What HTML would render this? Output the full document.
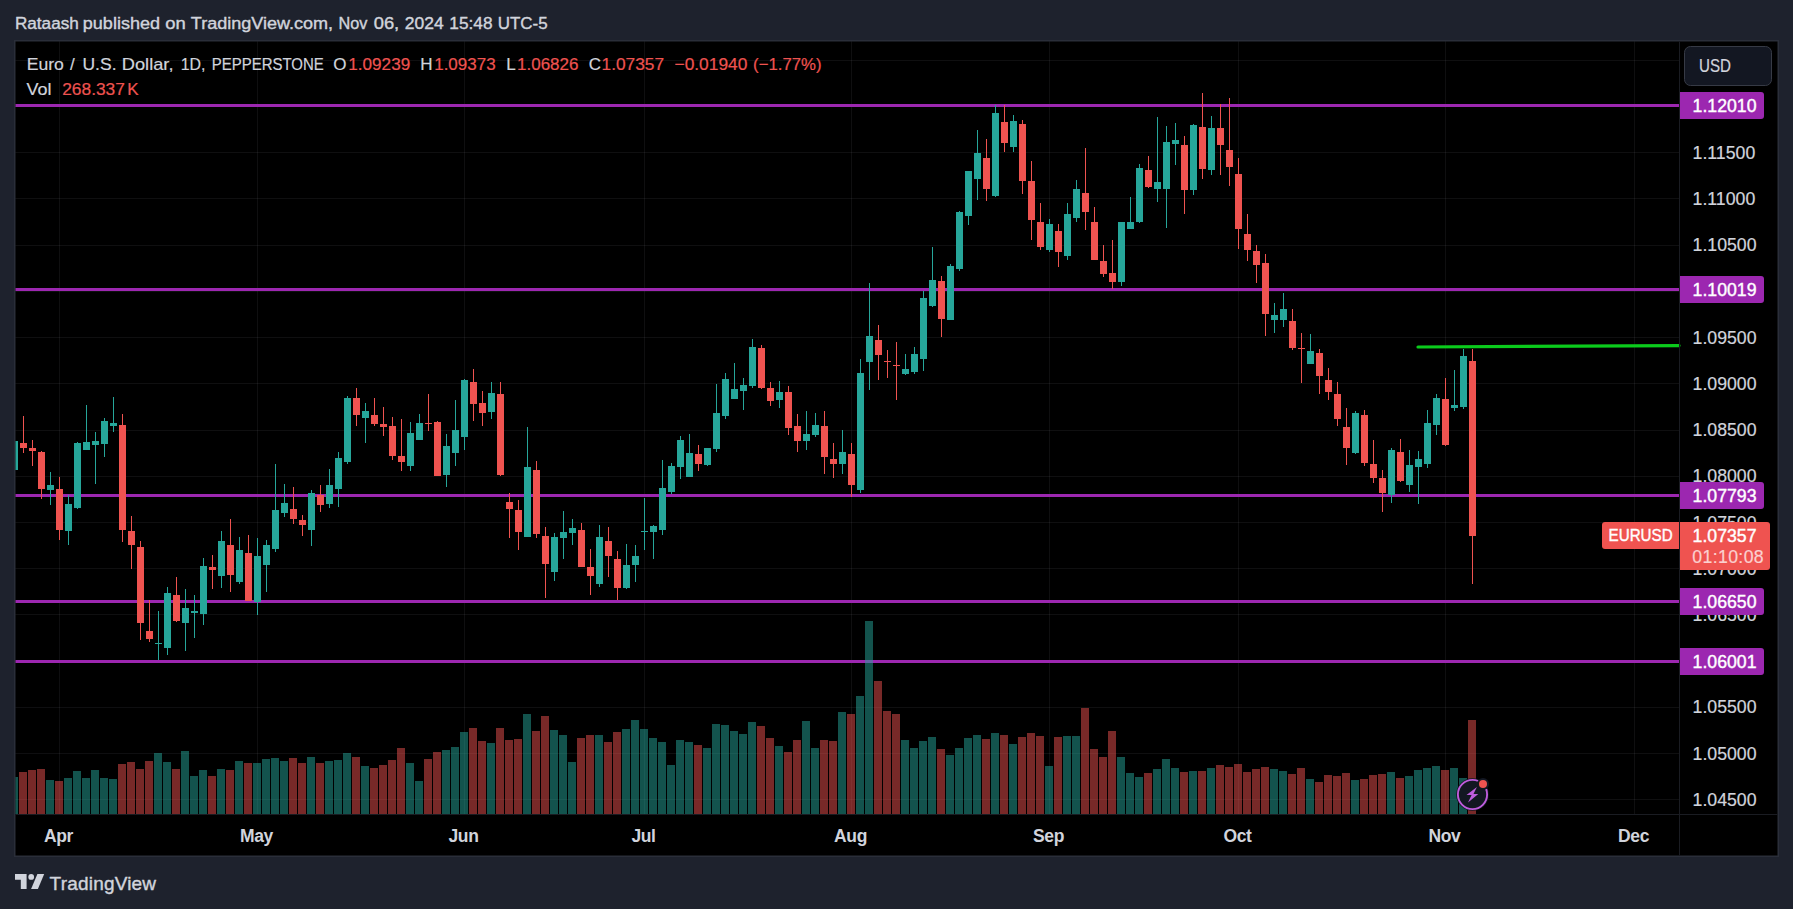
<!DOCTYPE html>
<html lang="en"><head><meta charset="utf-8"><title>EURUSD chart - TradingView</title>
<style>
html,body{margin:0;padding:0;background:#1e222d;}
body{width:1793px;height:909px;overflow:hidden;position:relative;}
svg{position:absolute;left:0;top:0;display:block;}
text{font-family:"Liberation Sans", "Trebuchet MS", Arial, sans-serif;white-space:pre;}
.g{fill:#26a69a}.r{fill:#ef5350}
.ax{fill:#d1d4dc;font-size:17.7px;stroke:#d1d4dc;stroke-width:0.2px}
.tag{fill:#fff;font-size:17.7px;stroke:#fff;stroke-width:0.4px}
.tm{fill:#d1d4dc;font-size:17.5px;font-weight:bold;text-anchor:middle;letter-spacing:-0.35px}
.lg{fill:#d1d4dc;font-size:17px;stroke:#d1d4dc;stroke-width:0.2px}
.lr{fill:#ef5350;font-size:17px;stroke:#ef5350;stroke-width:0.2px}
</style></head><body>
<svg width="1793" height="909" viewBox="0 0 1793 909">
<defs><clipPath id="pane"><rect x="15.5" y="41.5" width="1663.5" height="772.5"/></clipPath></defs>
<rect x="14" y="40" width="1765" height="817" fill="#2a2e39"/>
<rect x="15.5" y="41.5" width="1762" height="814" fill="#000"/>
<g fill="rgb(240,243,250)" fill-opacity="0.062">
<rect x="15.5" y="60" width="1663.5" height="1"/>
<rect x="15.5" y="106" width="1663.5" height="1"/>
<rect x="15.5" y="152" width="1663.5" height="1"/>
<rect x="15.5" y="198" width="1663.5" height="1"/>
<rect x="15.5" y="245" width="1663.5" height="1"/>
<rect x="15.5" y="291" width="1663.5" height="1"/>
<rect x="15.5" y="337" width="1663.5" height="1"/>
<rect x="15.5" y="383" width="1663.5" height="1"/>
<rect x="15.5" y="430" width="1663.5" height="1"/>
<rect x="15.5" y="476" width="1663.5" height="1"/>
<rect x="15.5" y="522" width="1663.5" height="1"/>
<rect x="15.5" y="568" width="1663.5" height="1"/>
<rect x="15.5" y="614" width="1663.5" height="1"/>
<rect x="15.5" y="661" width="1663.5" height="1"/>
<rect x="15.5" y="707" width="1663.5" height="1"/>
<rect x="15.5" y="753" width="1663.5" height="1"/>
<rect x="15.5" y="799" width="1663.5" height="1"/>
<rect x="59" y="41.5" width="1" height="772.5"/>
<rect x="257" y="41.5" width="1" height="772.5"/>
<rect x="464" y="41.5" width="1" height="772.5"/>
<rect x="644" y="41.5" width="1" height="772.5"/>
<rect x="851" y="41.5" width="1" height="772.5"/>
<rect x="1049" y="41.5" width="1" height="772.5"/>
<rect x="1238" y="41.5" width="1" height="772.5"/>
<rect x="1445" y="41.5" width="1" height="772.5"/>
<rect x="1634" y="41.5" width="1" height="772.5"/>
</g>
<g fill="#9c27b0">
<rect x="15.5" y="104" width="1663.5" height="3"/>
<rect x="15.5" y="288" width="1663.5" height="3"/>
<rect x="15.5" y="494" width="1663.5" height="3"/>
<rect x="15.5" y="600" width="1663.5" height="3"/>
<rect x="15.5" y="660" width="1663.5" height="3"/>
</g>
<line x1="1418" y1="347" x2="1679" y2="345.6" stroke="#0bcb1c" stroke-width="3.2" stroke-linecap="round"/>
<g clip-path="url(#pane)" opacity="0.5">
<rect class="g" x="10" y="777" width="8" height="37"/>
<rect class="r" x="19" y="772" width="8" height="42"/>
<rect class="r" x="28" y="770" width="8" height="44"/>
<rect class="r" x="37" y="769" width="8" height="45"/>
<rect class="g" x="46" y="780" width="8" height="34"/>
<rect class="r" x="55" y="781" width="8" height="33"/>
<rect class="g" x="64" y="778" width="8" height="36"/>
<rect class="g" x="73" y="771" width="8" height="43"/>
<rect class="g" x="82" y="778" width="8" height="36"/>
<rect class="g" x="91" y="770" width="8" height="44"/>
<rect class="g" x="100" y="778" width="8" height="36"/>
<rect class="g" x="109" y="779" width="8" height="35"/>
<rect class="r" x="118" y="764" width="8" height="50"/>
<rect class="r" x="127" y="762" width="8" height="52"/>
<rect class="r" x="136" y="769" width="8" height="45"/>
<rect class="r" x="145" y="761" width="8" height="53"/>
<rect class="g" x="154" y="753" width="8" height="61"/>
<rect class="g" x="163" y="762" width="8" height="52"/>
<rect class="r" x="172" y="769" width="8" height="45"/>
<rect class="g" x="181" y="751" width="8" height="63"/>
<rect class="g" x="190" y="776" width="8" height="38"/>
<rect class="g" x="199" y="770" width="8" height="44"/>
<rect class="r" x="208" y="776" width="8" height="38"/>
<rect class="g" x="217" y="769" width="8" height="45"/>
<rect class="r" x="226" y="770" width="8" height="44"/>
<rect class="g" x="235" y="761" width="8" height="53"/>
<rect class="r" x="244" y="763" width="8" height="51"/>
<rect class="g" x="253" y="763" width="8" height="51"/>
<rect class="g" x="262" y="759" width="8" height="55"/>
<rect class="g" x="271" y="758" width="8" height="56"/>
<rect class="g" x="280" y="761" width="8" height="53"/>
<rect class="r" x="289" y="758" width="8" height="56"/>
<rect class="r" x="298" y="763" width="8" height="51"/>
<rect class="g" x="307" y="757" width="8" height="57"/>
<rect class="r" x="316" y="763" width="8" height="51"/>
<rect class="g" x="325" y="761" width="8" height="53"/>
<rect class="g" x="334" y="760" width="8" height="54"/>
<rect class="g" x="343" y="753" width="8" height="61"/>
<rect class="r" x="352" y="757" width="8" height="57"/>
<rect class="g" x="361" y="766" width="8" height="48"/>
<rect class="r" x="370" y="768" width="8" height="46"/>
<rect class="r" x="379" y="765" width="8" height="49"/>
<rect class="r" x="388" y="760" width="8" height="54"/>
<rect class="r" x="397" y="748" width="8" height="66"/>
<rect class="g" x="406" y="763" width="8" height="51"/>
<rect class="g" x="415" y="781" width="8" height="33"/>
<rect class="r" x="424" y="759" width="8" height="55"/>
<rect class="r" x="433" y="752" width="8" height="62"/>
<rect class="g" x="442" y="750" width="8" height="64"/>
<rect class="g" x="451" y="747" width="8" height="67"/>
<rect class="g" x="460" y="732" width="8" height="82"/>
<rect class="r" x="469" y="728" width="8" height="86"/>
<rect class="r" x="478" y="741" width="8" height="73"/>
<rect class="g" x="487" y="743" width="8" height="71"/>
<rect class="r" x="496" y="728" width="8" height="86"/>
<rect class="r" x="505" y="740" width="8" height="74"/>
<rect class="r" x="514" y="739" width="8" height="75"/>
<rect class="g" x="523" y="714" width="8" height="100"/>
<rect class="r" x="532" y="731" width="8" height="83"/>
<rect class="r" x="541" y="716" width="8" height="98"/>
<rect class="g" x="550" y="730" width="8" height="84"/>
<rect class="g" x="559" y="735" width="8" height="79"/>
<rect class="g" x="568" y="762" width="8" height="52"/>
<rect class="r" x="577" y="738" width="8" height="76"/>
<rect class="r" x="586" y="735" width="8" height="79"/>
<rect class="g" x="595" y="735" width="8" height="79"/>
<rect class="r" x="604" y="742" width="8" height="72"/>
<rect class="r" x="613" y="732" width="8" height="82"/>
<rect class="g" x="622" y="729" width="8" height="85"/>
<rect class="g" x="631" y="720" width="8" height="94"/>
<rect class="g" x="640" y="729" width="8" height="85"/>
<rect class="g" x="649" y="738" width="8" height="76"/>
<rect class="g" x="658" y="742" width="8" height="72"/>
<rect class="g" x="667" y="765" width="8" height="49"/>
<rect class="g" x="676" y="740" width="8" height="74"/>
<rect class="g" x="685" y="742" width="8" height="72"/>
<rect class="r" x="694" y="745" width="8" height="69"/>
<rect class="g" x="703" y="748" width="8" height="66"/>
<rect class="g" x="712" y="724" width="8" height="90"/>
<rect class="g" x="721" y="725" width="8" height="89"/>
<rect class="g" x="730" y="731" width="8" height="83"/>
<rect class="g" x="739" y="734" width="8" height="80"/>
<rect class="g" x="748" y="722" width="8" height="92"/>
<rect class="r" x="757" y="726" width="8" height="88"/>
<rect class="r" x="766" y="738" width="8" height="76"/>
<rect class="g" x="775" y="746" width="8" height="68"/>
<rect class="r" x="784" y="752" width="8" height="62"/>
<rect class="r" x="793" y="740" width="8" height="74"/>
<rect class="g" x="802" y="721" width="8" height="93"/>
<rect class="g" x="811" y="748" width="8" height="66"/>
<rect class="r" x="820" y="740" width="8" height="74"/>
<rect class="r" x="829" y="741" width="8" height="73"/>
<rect class="g" x="838" y="712" width="8" height="102"/>
<rect class="r" x="847" y="714" width="8" height="100"/>
<rect class="g" x="856" y="696" width="8" height="118"/>
<rect class="g" x="865" y="621" width="8" height="193"/>
<rect class="r" x="874" y="681" width="8" height="133"/>
<rect class="r" x="883" y="711" width="8" height="103"/>
<rect class="r" x="892" y="714" width="8" height="100"/>
<rect class="g" x="901" y="740" width="8" height="74"/>
<rect class="g" x="910" y="748" width="8" height="66"/>
<rect class="g" x="919" y="741" width="8" height="73"/>
<rect class="g" x="928" y="737" width="8" height="77"/>
<rect class="r" x="937" y="749" width="8" height="65"/>
<rect class="g" x="946" y="755" width="8" height="59"/>
<rect class="g" x="955" y="748" width="8" height="66"/>
<rect class="g" x="964" y="738" width="8" height="76"/>
<rect class="g" x="973" y="735" width="8" height="79"/>
<rect class="r" x="982" y="739" width="8" height="75"/>
<rect class="g" x="991" y="733" width="8" height="81"/>
<rect class="r" x="1000" y="735" width="8" height="79"/>
<rect class="g" x="1009" y="744" width="8" height="70"/>
<rect class="r" x="1018" y="737" width="8" height="77"/>
<rect class="r" x="1027" y="733" width="8" height="81"/>
<rect class="r" x="1036" y="736" width="8" height="78"/>
<rect class="g" x="1045" y="766" width="8" height="48"/>
<rect class="r" x="1054" y="737" width="8" height="77"/>
<rect class="g" x="1063" y="736" width="8" height="78"/>
<rect class="g" x="1072" y="736" width="8" height="78"/>
<rect class="r" x="1081" y="708" width="8" height="106"/>
<rect class="r" x="1090" y="749" width="8" height="65"/>
<rect class="r" x="1099" y="757" width="8" height="57"/>
<rect class="r" x="1108" y="731" width="8" height="83"/>
<rect class="g" x="1117" y="757" width="8" height="57"/>
<rect class="g" x="1126" y="773" width="8" height="41"/>
<rect class="g" x="1135" y="777" width="8" height="37"/>
<rect class="r" x="1144" y="773" width="8" height="41"/>
<rect class="g" x="1153" y="769" width="8" height="45"/>
<rect class="g" x="1162" y="759" width="8" height="55"/>
<rect class="g" x="1171" y="768" width="8" height="46"/>
<rect class="r" x="1180" y="772" width="8" height="42"/>
<rect class="g" x="1189" y="771" width="8" height="43"/>
<rect class="r" x="1198" y="771" width="8" height="43"/>
<rect class="g" x="1207" y="768" width="8" height="46"/>
<rect class="r" x="1216" y="765" width="8" height="49"/>
<rect class="r" x="1225" y="767" width="8" height="47"/>
<rect class="r" x="1234" y="764" width="8" height="50"/>
<rect class="r" x="1243" y="772" width="8" height="42"/>
<rect class="r" x="1252" y="769" width="8" height="45"/>
<rect class="r" x="1261" y="767" width="8" height="47"/>
<rect class="g" x="1270" y="769" width="8" height="45"/>
<rect class="g" x="1279" y="771" width="8" height="43"/>
<rect class="r" x="1288" y="774" width="8" height="40"/>
<rect class="r" x="1297" y="768" width="8" height="46"/>
<rect class="g" x="1306" y="779" width="8" height="35"/>
<rect class="r" x="1315" y="782" width="8" height="32"/>
<rect class="r" x="1324" y="775" width="8" height="39"/>
<rect class="r" x="1333" y="776" width="8" height="38"/>
<rect class="r" x="1342" y="773" width="8" height="41"/>
<rect class="g" x="1351" y="780" width="8" height="34"/>
<rect class="r" x="1360" y="779" width="8" height="35"/>
<rect class="r" x="1369" y="775" width="8" height="39"/>
<rect class="r" x="1378" y="774" width="8" height="40"/>
<rect class="g" x="1387" y="772" width="8" height="42"/>
<rect class="r" x="1396" y="778" width="8" height="36"/>
<rect class="g" x="1405" y="776" width="8" height="38"/>
<rect class="g" x="1414" y="770" width="8" height="44"/>
<rect class="g" x="1423" y="768" width="8" height="46"/>
<rect class="g" x="1432" y="766" width="8" height="48"/>
<rect class="r" x="1441" y="770" width="8" height="44"/>
<rect class="g" x="1450" y="768" width="8" height="46"/>
<rect class="g" x="1459" y="778" width="8" height="36"/>
<rect class="r" x="1468" y="720" width="8" height="94"/>
</g>
<g clip-path="url(#pane)">
<rect class="g" x="14" y="440" width="1" height="32"/>
<rect class="g" x="11" y="441" width="7" height="29"/>
<rect class="r" x="23" y="416" width="1" height="37"/>
<rect class="r" x="20" y="443" width="7" height="5"/>
<rect class="r" x="32" y="440" width="1" height="26"/>
<rect class="r" x="29" y="448" width="7" height="3"/>
<rect class="r" x="41" y="451" width="1" height="48"/>
<rect class="r" x="38" y="452" width="7" height="37"/>
<rect class="g" x="50" y="472" width="1" height="33"/>
<rect class="g" x="47" y="485" width="7" height="5"/>
<rect class="r" x="59" y="477" width="1" height="63"/>
<rect class="r" x="56" y="489" width="7" height="41"/>
<rect class="g" x="68" y="495" width="1" height="50"/>
<rect class="g" x="65" y="504" width="7" height="27"/>
<rect class="g" x="77" y="442" width="1" height="67"/>
<rect class="g" x="74" y="443" width="7" height="65"/>
<rect class="g" x="86" y="405" width="1" height="45"/>
<rect class="g" x="83" y="442" width="7" height="8"/>
<rect class="g" x="95" y="432" width="1" height="52"/>
<rect class="g" x="92" y="441" width="7" height="4"/>
<rect class="g" x="104" y="418" width="1" height="39"/>
<rect class="g" x="101" y="421" width="7" height="23"/>
<rect class="g" x="113" y="397" width="1" height="35"/>
<rect class="g" x="110" y="423" width="7" height="3"/>
<rect class="r" x="122" y="414" width="1" height="128"/>
<rect class="r" x="119" y="425" width="7" height="105"/>
<rect class="r" x="131" y="516" width="1" height="53"/>
<rect class="r" x="128" y="531" width="7" height="14"/>
<rect class="r" x="140" y="541" width="1" height="99"/>
<rect class="r" x="137" y="547" width="7" height="76"/>
<rect class="r" x="149" y="600" width="1" height="42"/>
<rect class="r" x="146" y="631" width="7" height="8"/>
<rect class="g" x="158" y="611" width="1" height="49"/>
<rect class="g" x="155" y="643" width="7" height="1"/>
<rect class="g" x="167" y="587" width="1" height="68"/>
<rect class="g" x="164" y="593" width="7" height="55"/>
<rect class="r" x="176" y="577" width="1" height="45"/>
<rect class="r" x="173" y="595" width="7" height="26"/>
<rect class="g" x="185" y="589" width="1" height="62"/>
<rect class="g" x="182" y="608" width="7" height="15"/>
<rect class="g" x="194" y="595" width="1" height="43"/>
<rect class="g" x="191" y="611" width="7" height="2"/>
<rect class="g" x="203" y="558" width="1" height="67"/>
<rect class="g" x="200" y="566" width="7" height="48"/>
<rect class="r" x="212" y="555" width="1" height="34"/>
<rect class="r" x="209" y="567" width="7" height="3"/>
<rect class="g" x="221" y="531" width="1" height="57"/>
<rect class="g" x="218" y="541" width="7" height="35"/>
<rect class="r" x="230" y="519" width="1" height="73"/>
<rect class="r" x="227" y="545" width="7" height="30"/>
<rect class="g" x="239" y="537" width="1" height="47"/>
<rect class="g" x="236" y="550" width="7" height="32"/>
<rect class="r" x="248" y="535" width="1" height="66"/>
<rect class="r" x="245" y="553" width="7" height="48"/>
<rect class="g" x="257" y="538" width="1" height="77"/>
<rect class="g" x="254" y="556" width="7" height="46"/>
<rect class="g" x="266" y="540" width="1" height="52"/>
<rect class="g" x="263" y="545" width="7" height="20"/>
<rect class="g" x="275" y="464" width="1" height="88"/>
<rect class="g" x="272" y="510" width="7" height="39"/>
<rect class="g" x="284" y="484" width="1" height="33"/>
<rect class="g" x="281" y="503" width="7" height="10"/>
<rect class="r" x="293" y="487" width="1" height="37"/>
<rect class="r" x="290" y="509" width="7" height="10"/>
<rect class="r" x="302" y="515" width="1" height="21"/>
<rect class="r" x="299" y="520" width="7" height="5"/>
<rect class="g" x="311" y="490" width="1" height="56"/>
<rect class="g" x="308" y="493" width="7" height="37"/>
<rect class="r" x="320" y="485" width="1" height="27"/>
<rect class="r" x="317" y="495" width="7" height="10"/>
<rect class="g" x="329" y="469" width="1" height="39"/>
<rect class="g" x="326" y="485" width="7" height="19"/>
<rect class="g" x="338" y="452" width="1" height="55"/>
<rect class="g" x="335" y="458" width="7" height="31"/>
<rect class="g" x="347" y="396" width="1" height="68"/>
<rect class="g" x="344" y="398" width="7" height="64"/>
<rect class="r" x="356" y="388" width="1" height="38"/>
<rect class="r" x="353" y="398" width="7" height="17"/>
<rect class="g" x="365" y="403" width="1" height="40"/>
<rect class="g" x="362" y="411" width="7" height="7"/>
<rect class="r" x="374" y="398" width="1" height="28"/>
<rect class="r" x="371" y="415" width="7" height="9"/>
<rect class="r" x="383" y="407" width="1" height="29"/>
<rect class="r" x="380" y="424" width="7" height="3"/>
<rect class="r" x="392" y="417" width="1" height="43"/>
<rect class="r" x="389" y="426" width="7" height="30"/>
<rect class="r" x="401" y="419" width="1" height="52"/>
<rect class="r" x="398" y="456" width="7" height="6"/>
<rect class="g" x="410" y="422" width="1" height="49"/>
<rect class="g" x="407" y="433" width="7" height="33"/>
<rect class="g" x="419" y="414" width="1" height="26"/>
<rect class="g" x="416" y="423" width="7" height="17"/>
<rect class="r" x="428" y="394" width="1" height="37"/>
<rect class="r" x="425" y="423" width="7" height="1"/>
<rect class="r" x="437" y="421" width="1" height="55"/>
<rect class="r" x="434" y="422" width="7" height="54"/>
<rect class="g" x="446" y="434" width="1" height="53"/>
<rect class="g" x="443" y="446" width="7" height="29"/>
<rect class="g" x="455" y="400" width="1" height="66"/>
<rect class="g" x="452" y="430" width="7" height="23"/>
<rect class="g" x="464" y="379" width="1" height="71"/>
<rect class="g" x="461" y="380" width="7" height="57"/>
<rect class="r" x="473" y="369" width="1" height="52"/>
<rect class="r" x="470" y="382" width="7" height="22"/>
<rect class="r" x="482" y="391" width="1" height="35"/>
<rect class="r" x="479" y="403" width="7" height="10"/>
<rect class="g" x="491" y="382" width="1" height="37"/>
<rect class="g" x="488" y="393" width="7" height="19"/>
<rect class="r" x="500" y="382" width="1" height="94"/>
<rect class="r" x="497" y="394" width="7" height="81"/>
<rect class="r" x="509" y="493" width="1" height="45"/>
<rect class="r" x="506" y="502" width="7" height="7"/>
<rect class="r" x="518" y="500" width="1" height="50"/>
<rect class="r" x="515" y="510" width="7" height="22"/>
<rect class="g" x="527" y="427" width="1" height="110"/>
<rect class="g" x="524" y="467" width="7" height="70"/>
<rect class="r" x="536" y="461" width="1" height="77"/>
<rect class="r" x="533" y="470" width="7" height="64"/>
<rect class="r" x="545" y="527" width="1" height="71"/>
<rect class="r" x="542" y="536" width="7" height="28"/>
<rect class="g" x="554" y="533" width="1" height="48"/>
<rect class="g" x="551" y="537" width="7" height="35"/>
<rect class="g" x="563" y="511" width="1" height="48"/>
<rect class="g" x="560" y="532" width="7" height="6"/>
<rect class="g" x="572" y="519" width="1" height="26"/>
<rect class="g" x="569" y="528" width="7" height="5"/>
<rect class="r" x="581" y="523" width="1" height="44"/>
<rect class="r" x="578" y="530" width="7" height="37"/>
<rect class="r" x="590" y="549" width="1" height="46"/>
<rect class="r" x="587" y="567" width="7" height="9"/>
<rect class="g" x="599" y="525" width="1" height="62"/>
<rect class="g" x="596" y="537" width="7" height="47"/>
<rect class="r" x="608" y="527" width="1" height="50"/>
<rect class="r" x="605" y="541" width="7" height="15"/>
<rect class="r" x="617" y="551" width="1" height="49"/>
<rect class="r" x="614" y="559" width="7" height="29"/>
<rect class="g" x="626" y="544" width="1" height="45"/>
<rect class="g" x="623" y="565" width="7" height="23"/>
<rect class="g" x="635" y="545" width="1" height="37"/>
<rect class="g" x="632" y="556" width="7" height="9"/>
<rect class="g" x="644" y="498" width="1" height="52"/>
<rect class="g" x="641" y="531" width="7" height="1"/>
<rect class="g" x="653" y="525" width="1" height="34"/>
<rect class="g" x="650" y="526" width="7" height="6"/>
<rect class="g" x="662" y="460" width="1" height="75"/>
<rect class="g" x="659" y="488" width="7" height="42"/>
<rect class="g" x="671" y="463" width="1" height="31"/>
<rect class="g" x="668" y="466" width="7" height="26"/>
<rect class="g" x="680" y="436" width="1" height="43"/>
<rect class="g" x="677" y="440" width="7" height="27"/>
<rect class="g" x="689" y="434" width="1" height="43"/>
<rect class="g" x="686" y="453" width="7" height="24"/>
<rect class="r" x="698" y="445" width="1" height="26"/>
<rect class="r" x="695" y="454" width="7" height="10"/>
<rect class="g" x="707" y="448" width="1" height="18"/>
<rect class="g" x="704" y="448" width="7" height="17"/>
<rect class="g" x="716" y="384" width="1" height="68"/>
<rect class="g" x="713" y="413" width="7" height="36"/>
<rect class="g" x="725" y="373" width="1" height="46"/>
<rect class="g" x="722" y="379" width="7" height="37"/>
<rect class="g" x="734" y="363" width="1" height="36"/>
<rect class="g" x="731" y="389" width="7" height="10"/>
<rect class="g" x="743" y="378" width="1" height="32"/>
<rect class="g" x="740" y="385" width="7" height="6"/>
<rect class="g" x="752" y="339" width="1" height="49"/>
<rect class="g" x="749" y="347" width="7" height="39"/>
<rect class="r" x="761" y="345" width="1" height="44"/>
<rect class="r" x="758" y="348" width="7" height="40"/>
<rect class="r" x="770" y="382" width="1" height="24"/>
<rect class="r" x="767" y="388" width="7" height="13"/>
<rect class="g" x="779" y="381" width="1" height="27"/>
<rect class="g" x="776" y="392" width="7" height="8"/>
<rect class="r" x="788" y="386" width="1" height="49"/>
<rect class="r" x="785" y="392" width="7" height="36"/>
<rect class="r" x="797" y="414" width="1" height="38"/>
<rect class="r" x="794" y="426" width="7" height="15"/>
<rect class="g" x="806" y="411" width="1" height="39"/>
<rect class="g" x="803" y="434" width="7" height="7"/>
<rect class="g" x="815" y="413" width="1" height="24"/>
<rect class="g" x="812" y="425" width="7" height="10"/>
<rect class="r" x="824" y="411" width="1" height="63"/>
<rect class="r" x="821" y="426" width="7" height="31"/>
<rect class="r" x="833" y="443" width="1" height="35"/>
<rect class="r" x="830" y="459" width="7" height="5"/>
<rect class="g" x="842" y="430" width="1" height="44"/>
<rect class="g" x="839" y="452" width="7" height="12"/>
<rect class="r" x="851" y="443" width="1" height="54"/>
<rect class="r" x="848" y="454" width="7" height="31"/>
<rect class="g" x="860" y="359" width="1" height="134"/>
<rect class="g" x="857" y="373" width="7" height="117"/>
<rect class="g" x="869" y="283" width="1" height="107"/>
<rect class="g" x="866" y="336" width="7" height="26"/>
<rect class="r" x="878" y="325" width="1" height="55"/>
<rect class="r" x="875" y="340" width="7" height="15"/>
<rect class="r" x="887" y="350" width="1" height="28"/>
<rect class="r" x="884" y="361" width="7" height="1"/>
<rect class="r" x="896" y="342" width="1" height="58"/>
<rect class="r" x="893" y="365" width="7" height="1"/>
<rect class="g" x="905" y="354" width="1" height="21"/>
<rect class="g" x="902" y="369" width="7" height="5"/>
<rect class="g" x="914" y="347" width="1" height="27"/>
<rect class="g" x="911" y="354" width="7" height="18"/>
<rect class="g" x="923" y="291" width="1" height="80"/>
<rect class="g" x="920" y="298" width="7" height="61"/>
<rect class="g" x="932" y="247" width="1" height="60"/>
<rect class="g" x="929" y="280" width="7" height="26"/>
<rect class="r" x="941" y="276" width="1" height="61"/>
<rect class="r" x="938" y="281" width="7" height="38"/>
<rect class="g" x="950" y="264" width="1" height="56"/>
<rect class="g" x="947" y="266" width="7" height="54"/>
<rect class="g" x="959" y="211" width="1" height="60"/>
<rect class="g" x="956" y="212" width="7" height="57"/>
<rect class="g" x="968" y="171" width="1" height="54"/>
<rect class="g" x="965" y="171" width="7" height="45"/>
<rect class="g" x="977" y="130" width="1" height="70"/>
<rect class="g" x="974" y="153" width="7" height="26"/>
<rect class="r" x="986" y="139" width="1" height="62"/>
<rect class="r" x="983" y="158" width="7" height="31"/>
<rect class="g" x="995" y="105" width="1" height="92"/>
<rect class="g" x="992" y="113" width="7" height="83"/>
<rect class="r" x="1004" y="105" width="1" height="47"/>
<rect class="r" x="1001" y="122" width="7" height="21"/>
<rect class="g" x="1013" y="115" width="1" height="37"/>
<rect class="g" x="1010" y="121" width="7" height="26"/>
<rect class="r" x="1022" y="120" width="1" height="74"/>
<rect class="r" x="1019" y="124" width="7" height="57"/>
<rect class="r" x="1031" y="161" width="1" height="79"/>
<rect class="r" x="1028" y="181" width="7" height="39"/>
<rect class="r" x="1040" y="203" width="1" height="47"/>
<rect class="r" x="1037" y="222" width="7" height="25"/>
<rect class="g" x="1049" y="219" width="1" height="33"/>
<rect class="g" x="1046" y="224" width="7" height="26"/>
<rect class="r" x="1058" y="224" width="1" height="43"/>
<rect class="r" x="1055" y="231" width="7" height="21"/>
<rect class="g" x="1067" y="203" width="1" height="57"/>
<rect class="g" x="1064" y="214" width="7" height="42"/>
<rect class="g" x="1076" y="180" width="1" height="42"/>
<rect class="g" x="1073" y="189" width="7" height="29"/>
<rect class="r" x="1085" y="148" width="1" height="82"/>
<rect class="r" x="1082" y="193" width="7" height="19"/>
<rect class="r" x="1094" y="207" width="1" height="53"/>
<rect class="r" x="1091" y="222" width="7" height="38"/>
<rect class="r" x="1103" y="245" width="1" height="32"/>
<rect class="r" x="1100" y="261" width="7" height="13"/>
<rect class="r" x="1112" y="240" width="1" height="49"/>
<rect class="r" x="1109" y="273" width="7" height="9"/>
<rect class="g" x="1121" y="222" width="1" height="64"/>
<rect class="g" x="1118" y="222" width="7" height="60"/>
<rect class="g" x="1130" y="197" width="1" height="32"/>
<rect class="g" x="1127" y="222" width="7" height="7"/>
<rect class="g" x="1139" y="164" width="1" height="59"/>
<rect class="g" x="1136" y="168" width="7" height="54"/>
<rect class="r" x="1148" y="156" width="1" height="32"/>
<rect class="r" x="1145" y="170" width="7" height="17"/>
<rect class="g" x="1157" y="117" width="1" height="85"/>
<rect class="g" x="1154" y="182" width="7" height="7"/>
<rect class="g" x="1166" y="126" width="1" height="102"/>
<rect class="g" x="1163" y="142" width="7" height="47"/>
<rect class="g" x="1175" y="123" width="1" height="42"/>
<rect class="g" x="1172" y="140" width="7" height="4"/>
<rect class="r" x="1184" y="136" width="1" height="78"/>
<rect class="r" x="1181" y="145" width="7" height="45"/>
<rect class="g" x="1193" y="124" width="1" height="71"/>
<rect class="g" x="1190" y="125" width="7" height="65"/>
<rect class="r" x="1202" y="93" width="1" height="86"/>
<rect class="r" x="1199" y="127" width="7" height="42"/>
<rect class="g" x="1211" y="116" width="1" height="59"/>
<rect class="g" x="1208" y="128" width="7" height="42"/>
<rect class="r" x="1220" y="104" width="1" height="71"/>
<rect class="r" x="1217" y="128" width="7" height="17"/>
<rect class="r" x="1229" y="98" width="1" height="88"/>
<rect class="r" x="1226" y="150" width="7" height="17"/>
<rect class="r" x="1238" y="158" width="1" height="91"/>
<rect class="r" x="1235" y="174" width="7" height="55"/>
<rect class="r" x="1247" y="214" width="1" height="47"/>
<rect class="r" x="1244" y="234" width="7" height="16"/>
<rect class="r" x="1256" y="245" width="1" height="38"/>
<rect class="r" x="1253" y="251" width="7" height="14"/>
<rect class="r" x="1265" y="254" width="1" height="82"/>
<rect class="r" x="1262" y="263" width="7" height="51"/>
<rect class="g" x="1274" y="303" width="1" height="30"/>
<rect class="g" x="1271" y="315" width="7" height="5"/>
<rect class="g" x="1283" y="293" width="1" height="34"/>
<rect class="g" x="1280" y="309" width="7" height="11"/>
<rect class="r" x="1292" y="309" width="1" height="41"/>
<rect class="r" x="1289" y="321" width="7" height="27"/>
<rect class="r" x="1301" y="333" width="1" height="50"/>
<rect class="r" x="1298" y="348" width="7" height="1"/>
<rect class="g" x="1310" y="334" width="1" height="30"/>
<rect class="g" x="1307" y="351" width="7" height="13"/>
<rect class="r" x="1319" y="349" width="1" height="45"/>
<rect class="r" x="1316" y="353" width="7" height="23"/>
<rect class="r" x="1328" y="368" width="1" height="32"/>
<rect class="r" x="1325" y="380" width="7" height="12"/>
<rect class="r" x="1337" y="382" width="1" height="44"/>
<rect class="r" x="1334" y="394" width="7" height="25"/>
<rect class="r" x="1346" y="408" width="1" height="57"/>
<rect class="r" x="1343" y="427" width="7" height="21"/>
<rect class="g" x="1355" y="411" width="1" height="43"/>
<rect class="g" x="1352" y="413" width="7" height="40"/>
<rect class="r" x="1364" y="410" width="1" height="56"/>
<rect class="r" x="1361" y="415" width="7" height="48"/>
<rect class="r" x="1373" y="440" width="1" height="43"/>
<rect class="r" x="1370" y="464" width="7" height="14"/>
<rect class="r" x="1382" y="470" width="1" height="42"/>
<rect class="r" x="1379" y="478" width="7" height="15"/>
<rect class="g" x="1391" y="448" width="1" height="55"/>
<rect class="g" x="1388" y="450" width="7" height="45"/>
<rect class="r" x="1400" y="439" width="1" height="43"/>
<rect class="r" x="1397" y="452" width="7" height="29"/>
<rect class="g" x="1409" y="450" width="1" height="42"/>
<rect class="g" x="1406" y="465" width="7" height="20"/>
<rect class="g" x="1418" y="451" width="1" height="53"/>
<rect class="g" x="1415" y="459" width="7" height="8"/>
<rect class="g" x="1427" y="410" width="1" height="58"/>
<rect class="g" x="1424" y="423" width="7" height="41"/>
<rect class="g" x="1436" y="394" width="1" height="41"/>
<rect class="g" x="1433" y="398" width="7" height="27"/>
<rect class="r" x="1445" y="378" width="1" height="68"/>
<rect class="r" x="1442" y="399" width="7" height="46"/>
<rect class="g" x="1454" y="370" width="1" height="41"/>
<rect class="g" x="1451" y="405" width="7" height="3"/>
<rect class="g" x="1463" y="349" width="1" height="60"/>
<rect class="g" x="1460" y="356" width="7" height="51"/>
<rect class="r" x="1472" y="349" width="1" height="235"/>
<rect class="r" x="1469" y="361" width="7" height="175"/>
</g>
<rect x="15.5" y="814" width="1762" height="1" fill="#1a1c22"/>
<rect x="1679" y="41.5" width="1" height="814" fill="#1a1c22"/>
<text class="ax" x="1692.6" y="158.95">1.11500</text>
<text class="ax" x="1692.6" y="205.16">1.11000</text>
<text class="ax" x="1692.6" y="251.37">1.10500</text>
<text class="ax" x="1692.6" y="297.58">1.10000</text>
<text class="ax" x="1692.6" y="343.79">1.09500</text>
<text class="ax" x="1692.6" y="390">1.09000</text>
<text class="ax" x="1692.6" y="436.21">1.08500</text>
<text class="ax" x="1692.6" y="482.42">1.08000</text>
<text class="ax" x="1692.6" y="528.63">1.07500</text>
<text class="ax" x="1692.6" y="574.84">1.07000</text>
<text class="ax" x="1692.6" y="621.05">1.06500</text>
<text class="ax" x="1692.6" y="667.26">1.06000</text>
<text class="ax" x="1692.6" y="713.47">1.05500</text>
<text class="ax" x="1692.6" y="759.68">1.05000</text>
<text class="ax" x="1692.6" y="805.89">1.04500</text>
<path d="M1680 92 h81 a3 3 0 0 1 3 3 v21 a3 3 0 0 1 -3 3 h-81 z" fill="#9c27b0"/>
<text class="tag" x="1692.6" y="111.9">1.12010</text>
<path d="M1680 276 h81 a3 3 0 0 1 3 3 v21 a3 3 0 0 1 -3 3 h-81 z" fill="#9c27b0"/>
<text class="tag" x="1692.6" y="295.9">1.10019</text>
<path d="M1680 482 h81 a3 3 0 0 1 3 3 v21 a3 3 0 0 1 -3 3 h-81 z" fill="#9c27b0"/>
<text class="tag" x="1692.6" y="501.9">1.07793</text>
<path d="M1680 588 h81 a3 3 0 0 1 3 3 v21 a3 3 0 0 1 -3 3 h-81 z" fill="#9c27b0"/>
<text class="tag" x="1692.6" y="607.9">1.06650</text>
<path d="M1680 648 h81 a3 3 0 0 1 3 3 v21 a3 3 0 0 1 -3 3 h-81 z" fill="#9c27b0"/>
<text class="tag" x="1692.6" y="667.9">1.06001</text>
<path d="M1605 522 h74 v27 h-74 a3 3 0 0 1 -3 -3 v-21 a3 3 0 0 1 3 -3 z" fill="#ef5350"/>
<text x="1608.6" y="541.4" fill="#fff" stroke="#fff" stroke-width="0.4" font-size="16.6" textLength="64" lengthAdjust="spacingAndGlyphs">EURUSD</text>
<path d="M1680 522 h87 a3 3 0 0 1 3 3 v42 a3 3 0 0 1 -3 3 h-87 z" fill="#ef5350"/>
<text class="tag" x="1692.6" y="542">1.07357</text>
<text x="1692.2" y="562.6" fill="#fbd0cf" stroke="#fbd0cf" stroke-width="0.2" font-size="17.7" textLength="71.5" lengthAdjust="spacing">01:10:08</text>
<rect x="1684.5" y="46.5" width="87" height="39" rx="6" ry="6" fill="#131722" stroke="#363a45" stroke-width="1"/>
<text class="ax" x="1699" y="72.3" textLength="32" lengthAdjust="spacingAndGlyphs">USD</text>
<text class="tm" x="58.5" y="842">Apr</text>
<text class="tm" x="256.5" y="842">May</text>
<text class="tm" x="463.5" y="842">Jun</text>
<text class="tm" x="643.5" y="842">Jul</text>
<text class="tm" x="850.5" y="842">Aug</text>
<text class="tm" x="1048.5" y="842">Sep</text>
<text class="tm" x="1237.5" y="842">Oct</text>
<text class="tm" x="1444.5" y="842">Nov</text>
<text class="tm" x="1633.5" y="842">Dec</text>
<circle cx="1472.5" cy="794.5" r="16.3" fill="#131722"/>
<circle cx="1472.5" cy="794.5" r="14.6" fill="#131722" stroke="#be5cdc" stroke-width="1.9"/>
<path d="M1476.9 786.9 L1466.5 795.1 L1471.6 795.1 L1468 802.4 L1478.3 794.1 L1473.5 794.1 Z" fill="#be5cdc"/>
<circle cx="1483" cy="784" r="6" fill="#131722"/>
<circle cx="1483" cy="784" r="4" fill="#ef5350"/>
<g style="font-size:17.4px;stroke:#d1d4dc;stroke-width:0.4px" fill="#d1d4dc">
<text x="14.9" y="29" textLength="63.9" lengthAdjust="spacingAndGlyphs">Rataash</text>
<text x="82.8" y="29" textLength="77.2" lengthAdjust="spacingAndGlyphs">published</text>
<text x="165.3" y="29" textLength="20.5" lengthAdjust="spacingAndGlyphs">on</text>
<text x="190.8" y="29" textLength="142.3" lengthAdjust="spacingAndGlyphs">TradingView.com,</text>
<text x="338.5" y="29" textLength="28.9" lengthAdjust="spacingAndGlyphs">Nov</text>
<text x="373.7" y="29" textLength="25.5" lengthAdjust="spacingAndGlyphs">06,</text>
<text x="404.8" y="29" textLength="38.9" lengthAdjust="spacingAndGlyphs">2024</text>
<text x="449.3" y="29" textLength="43.2" lengthAdjust="spacingAndGlyphs">15:48</text>
<text x="497.7" y="29" textLength="49.9" lengthAdjust="spacingAndGlyphs">UTC-5</text>
</g>
<text class="lg" x="26.7" y="69.6" textLength="37.2" lengthAdjust="spacingAndGlyphs">Euro</text>
<text class="lg" x="72.4" y="69.6" text-anchor="middle">/</text>
<text class="lg" x="82.5" y="69.6" textLength="34" lengthAdjust="spacingAndGlyphs">U.S.</text>
<text class="lg" x="121.8" y="69.6" textLength="51.7" lengthAdjust="spacingAndGlyphs">Dollar,</text>
<text class="lg" x="180.7" y="69.6" textLength="24.8" lengthAdjust="spacingAndGlyphs">1D,</text>
<text class="lg" x="211.7" y="69.6" textLength="112.1" lengthAdjust="spacingAndGlyphs">PEPPERSTONE</text>
<text class="lg" x="339.95" y="69.6" text-anchor="middle">O</text>
<text class="lr" x="348.3" y="69.6" textLength="61.9" lengthAdjust="spacingAndGlyphs">1.09239</text>
<text class="lg" x="426.4" y="69.6" text-anchor="middle">H</text>
<text class="lr" x="434.2" y="69.6" textLength="61.4" lengthAdjust="spacingAndGlyphs">1.09373</text>
<text class="lg" x="511.1" y="69.6" text-anchor="middle">L</text>
<text class="lr" x="517" y="69.6" textLength="61.5" lengthAdjust="spacingAndGlyphs">1.06826</text>
<text class="lg" x="595" y="69.6" text-anchor="middle">C</text>
<text class="lr" x="601.5" y="69.6" textLength="62.6" lengthAdjust="spacingAndGlyphs">1.07357</text>
<text class="lr" x="674.5" y="69.6" textLength="72.9" lengthAdjust="spacingAndGlyphs">−0.01940</text>
<text class="lr" x="753.1" y="69.6" textLength="68.5" lengthAdjust="spacingAndGlyphs">(−1.77%)</text>
<text class="lg" x="26.5" y="95.4" textLength="25" lengthAdjust="spacingAndGlyphs">Vol</text>
<text class="lr" x="62.2" y="95.4" textLength="62.7" lengthAdjust="spacingAndGlyphs">268.337</text>
<text class="lr" x="132.8" y="95.4" text-anchor="middle">K</text>
<g fill="#d1d4dc">
<path d="M15 874 h11.6 v15 h-5.8 v-9.2 h-5.8 z"/>
<circle cx="31.2" cy="876.9" r="2.9"/>
<path d="M37.4 874 h6.8 l-6.3 15 h-6.8 z"/>
<text x="49.6" y="889.7" font-size="19" stroke="#d1d4dc" stroke-width="0.4" textLength="106.5" lengthAdjust="spacing" fill="#d1d4dc">TradingView</text>
</g>
</svg>
</body></html>
